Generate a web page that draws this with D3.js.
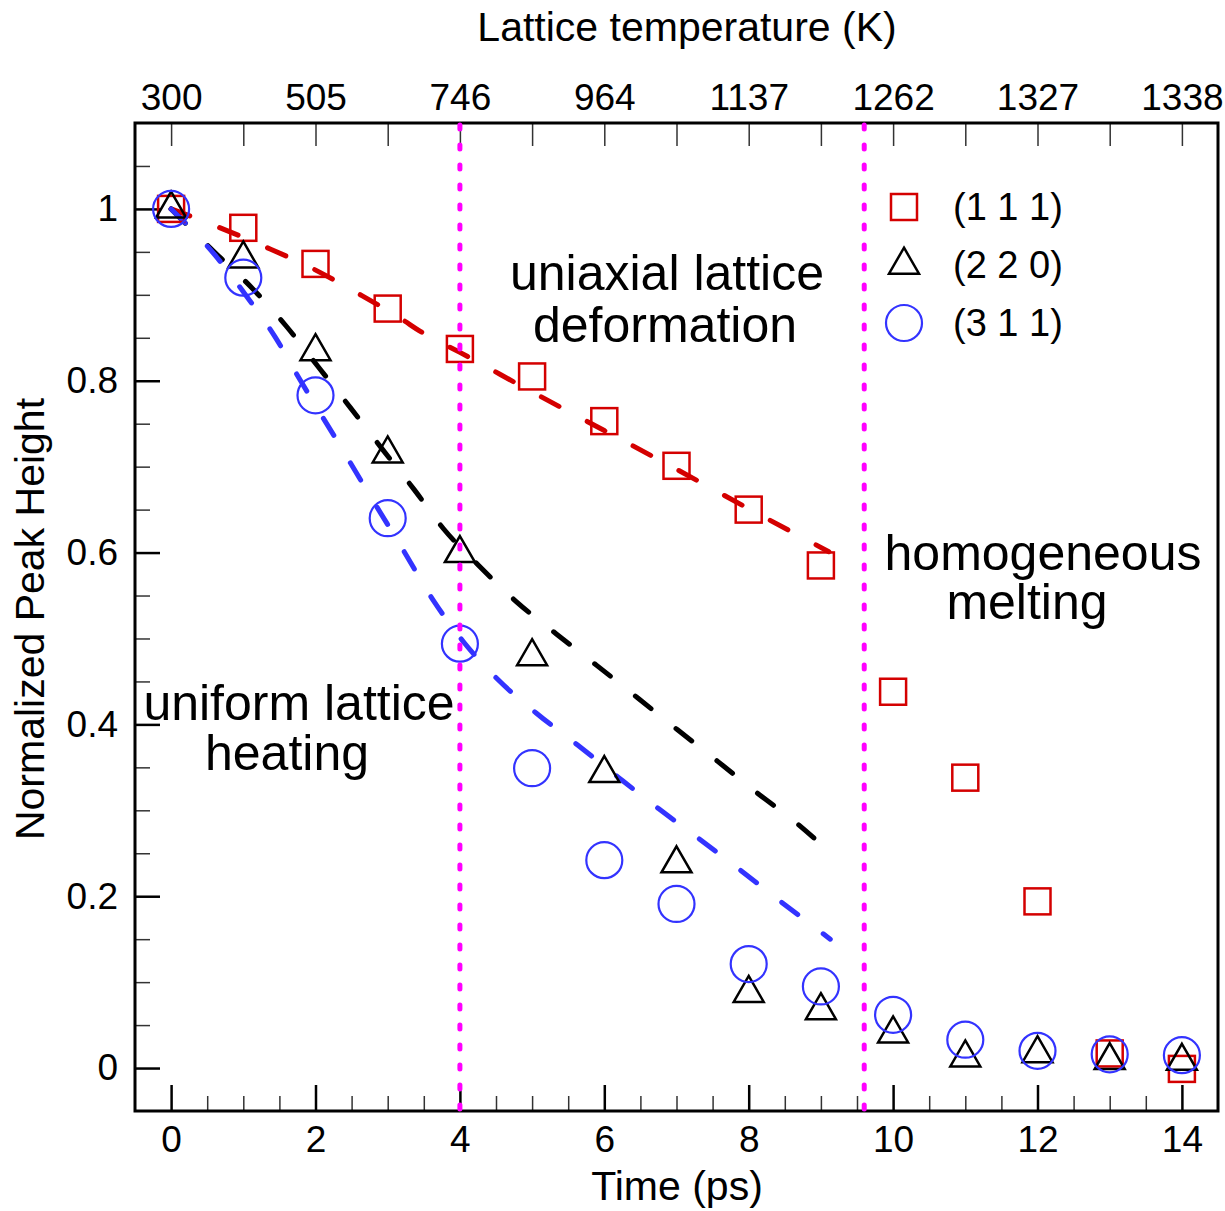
<!DOCTYPE html>
<html>
<head>
<meta charset="utf-8">
<script src="https://cdn.jsdelivr.net/npm/d3@7"></script>
<style>
  body { margin: 0; background: #fff; }
  svg { display: block; font-family: "Liberation Sans", Arial, sans-serif; }
</style>
</head>
<body>
<div id="chart"></div>
<script>
// time points (ps)
var times = [0, 1, 2, 3, 4, 5, 6, 7, 8, 9, 10, 11, 12, 13, 14];

// normalized peak heights
var peak111 = [1.0, 0.978, 0.936, 0.884, 0.837, 0.805, 0.753, 0.701, 0.650, 0.585, 0.438, 0.338, 0.194, 0.017, -0.001];
var peak220 = [1.0, 0.942, 0.834, 0.715, 0.599, 0.479, 0.343, 0.238, 0.087, 0.067, 0.040, 0.012, 0.017, 0.009, 0.008];
var peak311 = [1.0, 0.920, 0.783, 0.640, 0.494, 0.349, 0.242, 0.191, 0.121, 0.095, 0.062, 0.033, 0.020, 0.016, 0.015];

// dashed guide curves [time, height]
var fit111 = [[0, 1.0], [0.65, 0.979], [1.30, 0.956], [1.95, 0.931], [2.58, 0.902], [3.17, 0.873],
  [3.48, 0.856], [4, 0.833], [5, 0.787], [6, 0.742], [7, 0.697], [8, 0.651], [9.11, 0.601]];
var fit220 = [[0, 1.0], [0.61, 0.949], [1.12, 0.908], [1.59, 0.864], [2.04, 0.816], [2.48, 0.769],
  [2.92, 0.721], [3.37, 0.673], [3.77, 0.628], [4.26, 0.585], [4.78, 0.543], [5.34, 0.505],
  [5.89, 0.469], [6.46, 0.431], [7.01, 0.394], [7.57, 0.357], [8.12, 0.320], [8.68, 0.284], [9.11, 0.252]];
var fit311 = [[0, 1.0], [0.60, 0.947], [1.04, 0.899], [1.44, 0.851], [1.80, 0.799], [2.3, 0.730],
  [2.8, 0.660], [3.2, 0.605], [3.65, 0.542], [4.06, 0.495], [4.53, 0.452], [5.06, 0.413],
  [5.63, 0.376], [6.2, 0.338], [6.75, 0.302], [7.31, 0.267], [7.89, 0.230], [8.44, 0.194], [9.13, 0.150]];

// regime boundaries (ps)
var boundaries = [4.0, 9.6];

// ticks
var xMajorTicks = [0, 2, 4, 6, 8, 10, 12, 14];
var xMinorTicks = [0.5, 1, 1.5, 2.5, 3, 3.5, 4.5, 5, 5.5, 6.5, 7, 7.5, 8.5, 9, 9.5, 10.5, 11, 11.5, 12.5, 13, 13.5];
var yMajorTicks = [0, 0.2, 0.4, 0.6, 0.8, 1];
var yMinorTicks = [0.05, 0.1, 0.15, 0.25, 0.3, 0.35, 0.45, 0.5, 0.55, 0.65, 0.7, 0.75, 0.85, 0.9, 0.95, 1.05];
var topTicks = [0, 1, 2, 3, 4, 5, 6, 7, 8, 9, 10, 11, 12, 13, 14];
var tempLabels = ["300", "505", "746", "964", "1137", "1262", "1327", "1338"];

var legendLabels = ["(1 1 1)", "(2 2 0)", "(3 1 1)"];

var svg_width = 1225;
var svg_height = 1211;
var plotLeft = 135, plotRight = 1218, plotTop = 123, plotBottom = 1111;

var red = "#d40000", blue = "#3333ff", magenta = "#ff00ff";

var svg = d3.select("#chart")
  .append("svg")
  .attr("width", svg_width)
  .attr("height", svg_height);

var x = d3.scaleLinear().domain([-0.5, 14.5]).range([plotLeft, plotRight]);
var y = d3.scaleLinear().domain([-0.05, 1.1]).range([plotBottom, plotTop]);

// axes
function styleAxis(g, fs) {
  g.select(".domain").remove();
  g.selectAll("text").attr("font-size", fs).attr("fill", "#000")
    .attr("font-family", "Liberation Sans, Arial, sans-serif");
}

svg.append("g")
  .attr("transform", "translate(0," + plotBottom + ")")
  .call(d3.axisBottom(x).tickValues(xMinorTicks).tickSize(-15).tickFormat(""))
  .call(function(g) { styleAxis(g, 37); })
  .selectAll("line").attr("stroke", "#333").attr("stroke-width", 1.5);

svg.append("g")
  .attr("transform", "translate(0," + plotBottom + ")")
  .call(d3.axisBottom(x).tickValues(xMajorTicks).tickSize(-26).tickPadding(15).tickFormat(d3.format("d")))
  .call(function(g) { styleAxis(g, 37); })
  .selectAll("line").attr("stroke", "#000").attr("stroke-width", 2.5);

svg.append("g")
  .attr("transform", "translate(" + plotLeft + ",0)")
  .call(d3.axisLeft(y).tickValues(yMinorTicks).tickSize(-15).tickFormat(""))
  .call(function(g) { styleAxis(g, 37); })
  .selectAll("line").attr("stroke", "#333").attr("stroke-width", 1.5);

svg.append("g")
  .attr("transform", "translate(" + plotLeft + ",0)")
  .call(d3.axisLeft(y).tickValues(yMajorTicks).tickSize(-25).tickPadding(17).tickFormat(d3.format("~g")))
  .call(function(g) { styleAxis(g, 37); })
  .selectAll("line").attr("stroke", "#000").attr("stroke-width", 2.5);

svg.append("g")
  .attr("transform", "translate(0," + plotTop + ")")
  .call(d3.axisTop(x).tickValues(topTicks).tickSize(-23).tickPadding(13)
    .tickFormat(function(d) { return d % 2 === 0 ? tempLabels[d / 2] : ""; }))
  .call(function(g) { styleAxis(g, 37); })
  .selectAll("line").attr("stroke", "#333").attr("stroke-width", 1.5);

// frame
svg.append("rect")
  .attr("x", plotLeft).attr("y", plotTop)
  .attr("width", plotRight - plotLeft).attr("height", plotBottom - plotTop)
  .attr("fill", "none").attr("stroke", "#000").attr("stroke-width", 3);

// axis titles
svg.append("text")
  .attr("x", 677).attr("y", 1200)
  .attr("text-anchor", "middle").attr("font-size", 41)
  .text("Time (ps)");

svg.append("text")
  .attr("x", 687).attr("y", 41)
  .attr("text-anchor", "middle").attr("font-size", 41)
  .text("Lattice temperature (K)");

svg.append("text")
  .attr("transform", "translate(44,619) rotate(-90)")
  .attr("text-anchor", "middle").attr("font-size", 41)
  .text("Normalized Peak Height");

// dashed guides
var line = d3.line()
  .x(function(d) { return x(d[0]); })
  .y(function(d) { return y(d[1]); })
  .curve(d3.curveMonotoneX);

[[fit111, red], [fit220, "#000"], [fit311, blue]].forEach(function(f) {
  svg.append("path")
    .attr("d", line(f[0]))
    .attr("fill", "none")
    .attr("stroke", f[1])
    .attr("stroke-width", 5)
    .attr("stroke-linecap", "round")
    .attr("stroke-dasharray", "20,32");
});

// markers
var triPath = "M0,-17.3L15,8.7L-15,8.7Z";

svg.append("g").selectAll("rect")
  .data(times)
  .join("rect")
  .attr("x", function(d, i) { return x(d) - 13; })
  .attr("y", function(d, i) { return y(peak111[i]) - 13; })
  .attr("width", 26).attr("height", 26)
  .attr("fill", "none").attr("stroke", red).attr("stroke-width", 2.5);

svg.append("g").selectAll("path")
  .data(times)
  .join("path")
  .attr("d", triPath)
  .attr("transform", function(d, i) { return "translate(" + x(d) + "," + y(peak220[i]) + ")"; })
  .attr("fill", "none").attr("stroke", "#000").attr("stroke-width", 2.5);

svg.append("g").selectAll("circle")
  .data(times)
  .join("circle")
  .attr("cx", function(d) { return x(d); })
  .attr("cy", function(d, i) { return y(peak311[i]); })
  .attr("r", 18)
  .attr("fill", "none").attr("stroke", blue).attr("stroke-width", 2.2);

// regime boundaries
svg.append("g").selectAll("line")
  .data(boundaries)
  .join("line")
  .attr("x1", function(d) { return x(d); })
  .attr("x2", function(d) { return x(d); })
  .attr("y1", plotTop + 2).attr("y2", plotBottom - 2)
  .attr("stroke", magenta).attr("stroke-width", 5)
  .attr("stroke-linecap", "round")
  .attr("stroke-dasharray", "4,16");

// annotations
var notes = [
  { text: "uniaxial lattice", x: 667, y: 290 },
  { text: "deformation", x: 665, y: 342 },
  { text: "homogeneous", x: 1043, y: 570 },
  { text: "melting", x: 1027, y: 619 },
  { text: "uniform lattice", x: 299, y: 720 },
  { text: "heating", x: 287, y: 770 }
];
svg.append("g").selectAll("text")
  .data(notes)
  .join("text")
  .attr("x", function(d) { return d.x; })
  .attr("y", function(d) { return d.y; })
  .attr("text-anchor", "middle")
  .attr("font-size", 50)
  .text(function(d) { return d.text; });

// legend
var legend = svg.append("g");
var legY = [207, 265, 323];
legend.append("rect").attr("x", 904 - 13).attr("y", legY[0] - 13).attr("width", 26).attr("height", 26)
  .attr("fill", "none").attr("stroke", red).attr("stroke-width", 2.5);
legend.append("path").attr("d", triPath).attr("transform", "translate(904," + legY[1] + ")")
  .attr("fill", "none").attr("stroke", "#000").attr("stroke-width", 2.5);
legend.append("circle").attr("cx", 904).attr("cy", legY[2]).attr("r", 18)
  .attr("fill", "none").attr("stroke", blue).attr("stroke-width", 2.2);
legend.selectAll("text")
  .data(legendLabels)
  .join("text")
  .attr("x", 953)
  .attr("y", function(d, i) { return legY[i] + 13; })
  .attr("font-size", 38)
  .text(function(d) { return d; });
</script>
</body>
</html>
